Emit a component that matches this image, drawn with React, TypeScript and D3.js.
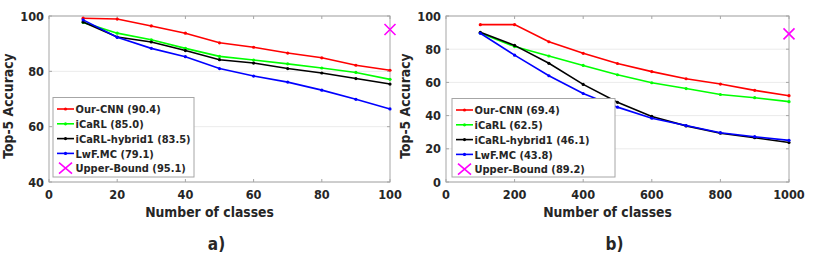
import * as d3 from 'd3';

// panel a) 10..100 classes
const classesA = [10, 20, 30, 40, 50, 60, 70, 80, 90, 100];
const ourCnnA = [99.2, 98.9, 96.4, 93.8, 90.3, 88.7, 86.6, 84.9, 82.2, 80.4];
const icarlA = [97.7, 93.8, 91.4, 88.3, 85.4, 84.1, 82.7, 81.2, 79.6, 77.1];
const hybridA = [97.8, 92.4, 90.6, 87.5, 84.2, 83.0, 81.0, 79.4, 77.4, 75.4];
const lwfA = [98.6, 92.3, 88.3, 85.3, 81.0, 78.3, 76.1, 73.2, 69.9, 66.4];
const upperA = { x: 100, y: 95.1 };
const legendA = ['Our-CNN (90.4)', 'iCaRL (85.0)', 'iCaRL-hybrid1 (83.5)', 'LwF.MC (79.1)', 'Upper-Bound (95.1)'];
const xTicksA = [0, 20, 40, 60, 80, 100];
const yTicksA = [40, 60, 80, 100];

// panel b) 100..1000 classes
const classesB = [100, 200, 300, 400, 500, 600, 700, 800, 900, 1000];
const ourCnnB = [94.8, 94.8, 84.5, 77.5, 71.4, 66.5, 62.2, 59.0, 55.2, 52.0];
const icarlB = [89.7, 81.6, 75.9, 70.2, 64.6, 59.8, 56.3, 52.7, 50.8, 48.4];
const hybridB = [90.2, 82.3, 71.5, 58.8, 48.0, 39.5, 33.8, 29.4, 26.7, 23.8];
const lwfB = [89.6, 76.4, 64.0, 53.3, 45.1, 38.4, 34.0, 29.7, 27.3, 25.1];
const upperB = { x: 1000, y: 89.2 };
const legendB = ['Our-CNN (69.4)', 'iCaRL (62.5)', 'iCaRL-hybrid1 (46.1)', 'LwF.MC (43.8)', 'Upper-Bound (89.2)'];
const xTicksB = [0, 200, 400, 600, 800, 1000];
const yTicksB = [0, 20, 40, 60, 80, 100];

const colors = ['#ff0000', '#00ff00', '#000000', '#0000ff'];
const magenta = '#ff00ff';
const textColor = '#262626';
const axisColor = '#a6a6a6';
const font = '"DejaVu Sans Condensed", "DejaVu Sans", sans-serif';

type PanelProps = {
  left: number;
  right: number;
  top: number;
  bottom: number;
  xDomain: [number, number];
  yDomain: [number, number];
  xs: number[];
  series: number[][];
  upper: { x: number; y: number };
  legend: string[];
  legendBox: { x: number; y: number; w: number; h: number };
  xTicks: number[];
  yTicks: number[];
  yLabelX: number;
  tag: string;
};

const Panel = (p: PanelProps) => {
  const x = d3.scaleLinear().domain(p.xDomain).range([p.left, p.right]);
  const y = d3.scaleLinear().domain(p.yDomain).range([p.bottom, p.top]);
  const line = d3.line<number>()
    .x((_, i) => x(p.xs[i]))
    .y((d) => y(d));
  const cx = (p.left + p.right) / 2;
  const cy = (p.top + p.bottom) / 2;
  const ux = x(p.upper.x);
  const uy = y(p.upper.y);
  const lb = p.legendBox;
  const rowH = 14.8;

  return (
    <g fontFamily={font} fontWeight="bold" fill={textColor} style={{ fontStretch: 'condensed' }}>
      {/* grid */}
      {p.yTicks.map((t) => (
        <line key={'g' + t} x1={p.left} x2={p.right} y1={y(t)} y2={y(t)} stroke="#ebebeb" strokeWidth={1} />
      ))}
      {/* box */}
      <rect x={p.left} y={p.top} width={p.right - p.left} height={p.bottom - p.top} fill="none" stroke={axisColor} strokeWidth={1} />
      {/* ticks */}
      {p.xTicks.map((t) => (
        <g key={'x' + t}>
          <line x1={x(t)} x2={x(t)} y1={p.bottom} y2={p.bottom - 3} stroke={axisColor} />
          <line x1={x(t)} x2={x(t)} y1={p.top} y2={p.top + 3} stroke={axisColor} />
          <text x={x(t)} y={p.bottom + 17} textAnchor="middle" fontSize={12.6}>{t}</text>
        </g>
      ))}
      {p.yTicks.map((t) => (
        <g key={'y' + t}>
          <line x1={p.left} x2={p.left + 3} y1={y(t)} y2={y(t)} stroke={axisColor} />
          <line x1={p.right} x2={p.right - 3} y1={y(t)} y2={y(t)} stroke={axisColor} />
          <text x={p.left - 5} y={y(t) + 4.5} textAnchor="end" fontSize={12.6}>{t}</text>
        </g>
      ))}
      {/* lines */}
      {p.series.map((s, k) => (
        <g key={'s' + k}>
          <path d={line(s) || ''} fill="none" stroke={colors[k]} strokeWidth={1.6} />
          {s.map((v, i) => (
            <circle key={i} cx={x(p.xs[i])} cy={y(v)} r={1.6} fill={colors[k]} />
          ))}
        </g>
      ))}
      {/* upper bound marker */}
      <path d={`M${ux - 5.5},${uy - 5.5}L${ux + 5.5},${uy + 5.5}M${ux - 5.5},${uy + 5.5}L${ux + 5.5},${uy - 5.5}`} stroke={magenta} strokeWidth={1.6} />
      {/* legend */}
      <rect x={lb.x} y={lb.y} width={lb.w} height={lb.h} fill="#fff" stroke={axisColor} strokeWidth={1} />
      {p.legend.map((name, i) => {
        const ry = lb.y + 11.5 + i * rowH;
        const x0 = lb.x + 4;
        const x1 = lb.x + 21;
        const mx = (x0 + x1) / 2;
        return (
          <g key={'l' + i}>
            {i < 4 ? (
              <g>
                <line x1={x0} x2={x1} y1={ry} y2={ry} stroke={colors[i]} strokeWidth={1.6} />
                <circle cx={mx} cy={ry} r={1.6} fill={colors[i]} />
              </g>
            ) : (
              <path d={`M${mx - 6.5},${ry - 5.5}L${mx + 6.5},${ry + 5.5}M${mx - 6.5},${ry + 5.5}L${mx + 6.5},${ry - 5.5}`} stroke={magenta} strokeWidth={1.6} />
            )}
            <text x={x1 + 1.5} y={ry + 4.2} fontSize={11}>{name}</text>
          </g>
        );
      })}
      {/* labels */}
      <text x={cx - 10} y={p.bottom + 35} textAnchor="middle" fontSize={13.8}>Number of classes</text>
      <text transform={`translate(${p.yLabelX},${cy + 7}) rotate(-90)`} textAnchor="middle" fontSize={13.8}>Top-5 Accuracy</text>
      <text x={cx - 3} y={p.bottom + 68} textAnchor="middle" fontSize={17}>{p.tag}</text>
    </g>
  );
};

export default function App() {
  return (
    <svg width={831} height={254} style={{ position: 'absolute', left: 0, top: 0, background: '#fff' }}>
      <Panel
        left={49}
        right={390}
        top={16}
        bottom={182}
        xDomain={[0, 100]}
        yDomain={[40, 100]}
        xs={classesA}
        series={[ourCnnA, icarlA, hybridA, lwfA]}
        upper={upperA}
        legend={legendA}
        legendBox={{ x: 53, y: 97.5, w: 141, h: 79.5 }}
        xTicks={xTicksA}
        yTicks={yTicksA}
        yLabelX={13}
        tag="a)"
      />
      <Panel
        left={446}
        right={789}
        top={16}
        bottom={182}
        xDomain={[0, 1000]}
        yDomain={[0, 100]}
        xs={classesB}
        series={[ourCnnB, icarlB, hybridB, lwfB]}
        upper={upperB}
        legend={legendB}
        legendBox={{ x: 452, y: 98.5, w: 163, h: 78.5 }}
        xTicks={xTicksB}
        yTicks={yTicksB}
        yLabelX={410}
        tag="b)"
      />
    </svg>
  );
}
